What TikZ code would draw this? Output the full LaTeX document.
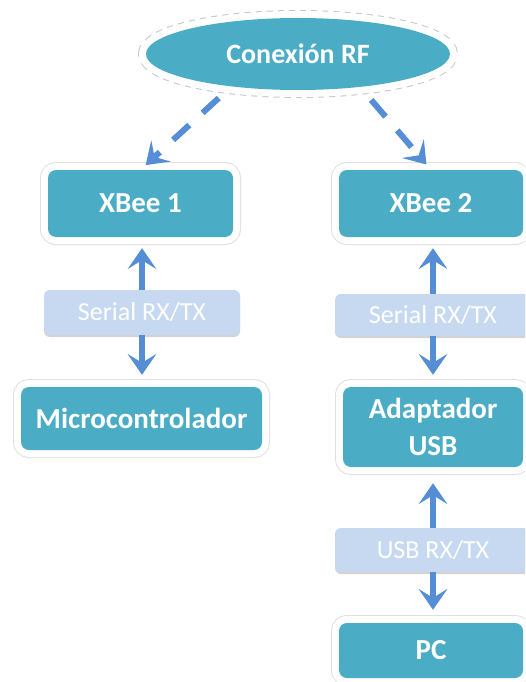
\documentclass[tikz,border=0pt]{standalone}
\usepackage{fontspec}
\setmainfont{Carlito}
\usetikzlibrary{positioning,arrows.meta,shapes.geometric,shadows}
\definecolor{boxTeal}{HTML}{4BACC6}
\definecolor{tagBlue}{HTML}{C6D9F1}
\definecolor{linkBlue}{HTML}{558ED5}

\begin{document}
\begin{tikzpicture}[
    x=1pt, y=-1pt,
    unit/.style={rounded corners=8pt, fill=boxTeal, text=white, inner sep=0pt, align=center,
      font=\fontsize{29}{37}\selectfont\bfseries,
      preaction={draw=black!12, line width=16pt},
      preaction={draw=white, line width=14pt}},
    radio/.style={ellipse, fill=boxTeal, text=white, inner sep=0pt,
      font=\fontsize{28}{34}\selectfont\bfseries,
      preaction={draw=black!22, dash pattern=on 6pt off 5pt, line width=16pt},
      preaction={draw=white, line width=14pt}},
    tag/.style={rounded corners=6pt, fill=tagBlue, text=white, inner sep=0pt,
      minimum width=196pt, font=\fontsize{26}{30}\selectfont,
      drop shadow={shadow xshift=0pt, shadow yshift=-2pt, opacity=0.35, fill=black!50}},
    link/.style={draw=linkBlue, line width=6pt,
      -{Stealth[length=21pt, width=29pt, inset=9pt, line width=0pt]}},
    rfLink/.style={link, dash pattern=on 22pt off 18pt, shorten <=17pt, shorten >=7pt},
]
\useasboundingbox (0,0) rectangle (525,682);
\clip (0,0) rectangle (525,682);

% radio link
\node[radio, minimum width=304pt, minimum height=72pt] (rf) at (298,54) {Conexión RF};

% left branch
\node[unit, minimum width=185pt, minimum height=67pt] (xb1) at (140.5,203.5) {XBee 1};
\node[tag, minimum height=45pt] (ser1) at (142,312.5) {Serial RX/TX};
\node[unit, minimum width=241pt, minimum height=63pt] (mcu) at (141.5,418.5) {Microcontrolador};

% right branch
\node[unit, minimum width=184pt, minimum height=67pt] (xb2) at (431,203.5) {XBee 2};
\node[tag, minimum height=42pt] (ser2) at (433,315) {Serial RX/TX};
\node[unit, minimum width=180pt, minimum height=80pt] (usbad) at (433,427) {Adaptador\\USB};
\node[tag, minimum height=44pt] (usbtag) at (433,550) {USB RX/TX};
\node[unit, minimum width=184pt, minimum height=55pt] (pc) at (431,650.5) {PC};

% connectors
\draw[rfLink] (rf.206) -- (xb1.north);
\draw[rfLink] (rf.-28) -- (xb2.north);
\draw[link, shorten >=11pt] (ser1.north) -- (ser1.north |- xb1.south);
\draw[link, shorten >=12pt] (ser1.south) -- (ser1.south |- mcu.north);
\draw[link, shorten >=11pt] (ser2.north) -- (ser2.north |- xb2.south);
\draw[link, shorten >=12pt] (ser2.south) -- (ser2.south |- usbad.north);
\draw[link, shorten >=16pt] (usbtag.north) -- (usbtag.north |- usbad.south);
\draw[link, shorten >=13pt] (usbtag.south) -- (usbtag.south |- pc.north);
\end{tikzpicture}
\end{document}
